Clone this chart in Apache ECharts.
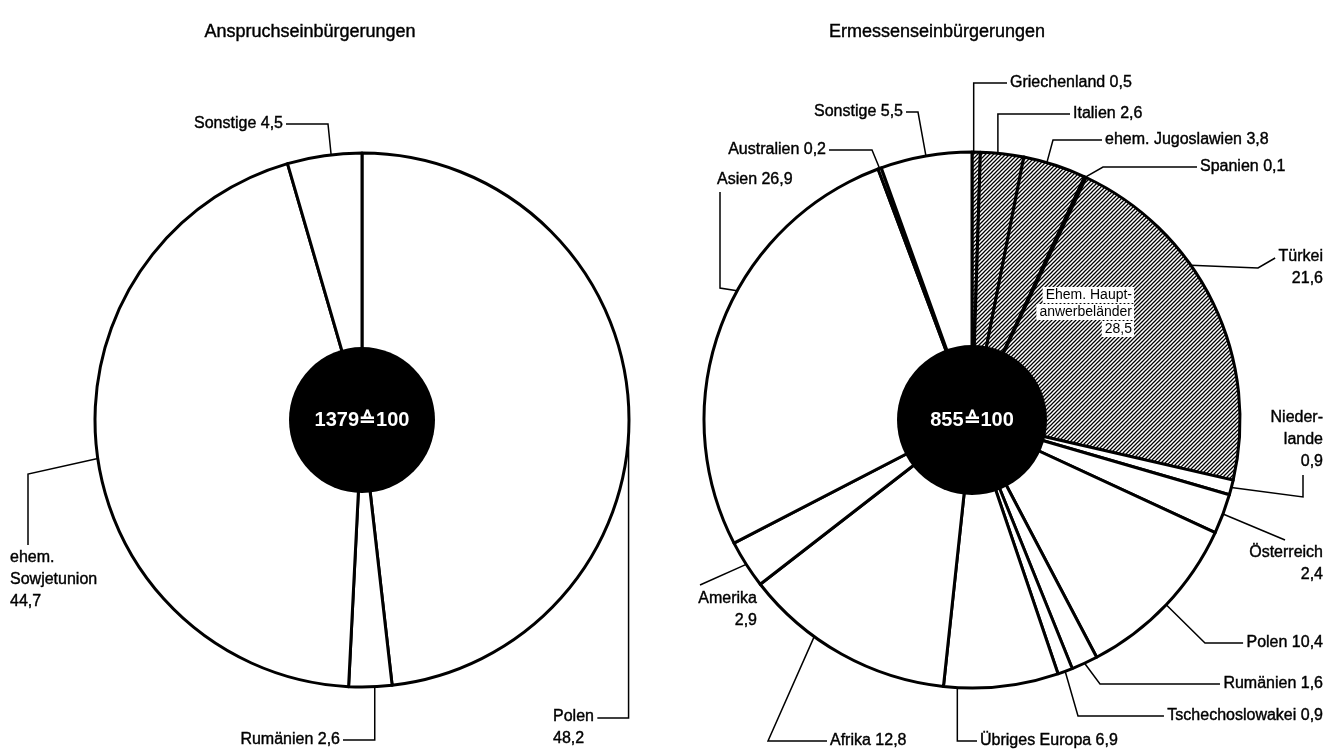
<!DOCTYPE html>
<html><head><meta charset="utf-8">
<script src="https://cdn.jsdelivr.net/npm/echarts@6/dist/echarts.min.js"></script>
<style>html,body{margin:0;padding:0;background:#fff}#c{width:1330px;height:753px}</style>
</head><body><div id="c"></div>
<script>
// ---------- data ----------
const leftTitle = 'Anspruchseinbürgerungen';
const rightTitle = 'Ermessenseinbürgerungen';

const leftCategories = ['Polen', 'Rumänien', 'ehem. Sowjetunion', 'Sonstige'];
const leftDisplay    = ['Polen', 'Rumänien', 'ehem.\nSowjetunion', 'Sonstige'];
const leftValues     = [48.2, 2.6, 44.7, 4.5];
const leftTotal      = '1379≙100';

const rightCategories = ['Griechenland', 'Italien', 'ehem. Jugoslawien', 'Spanien', 'Türkei',
  'Niederlande', 'Österreich', 'Polen', 'Rumänien', 'Tschechoslowakei', 'Übriges Europa',
  'Afrika', 'Amerika', 'Asien', 'Australien', 'Sonstige'];
const rightDisplay = ['Griechenland', 'Italien', 'ehem. Jugoslawien', 'Spanien', 'Türkei',
  'Nieder-\nlande', 'Österreich', 'Polen', 'Rumänien', 'Tschechoslowakei', 'Übriges Europa',
  'Afrika', 'Amerika', 'Asien', 'Australien', 'Sonstige'];
const rightValues = [0.5, 2.6, 3.8, 0.1, 21.6, 0.9, 2.4, 10.4, 1.6, 0.9, 6.9, 12.8, 2.9, 26.9, 0.2, 5.5];
const rightTotal  = '855≙100';
const hauptanwerbelaender = ['Griechenland', 'Italien', 'ehem. Jugoslawien', 'Spanien', 'Türkei'];
const groupLabelLines = ['Ehem. Haupt-', 'anwerbeländer', '28,5'];

// ---------- layout (positions / styles only) ----------
const FONT = '"Liberation Sans", Arial, Helvetica, sans-serif';
const leftGeom  = { cx: 362, cy: 420, r: 267, inner: 73 };
const rightGeom = { cx: 972, cy: 420, r: 268, inner: 75 };
// f: where along the slice the leader attaches; pts: leader elbows ('ex','ey' edge coords, 'L','R' label sides)
const leftLabelLayout = [
  { x: 553, y: 728, align: 'left',  sep: '\n', f: 0.5,  pts: [['ex', 718], ['R', 718]] },
  { x: 340, y: 740, align: 'right', sep: ' ',  f: 0.4,  pts: [['ex', 740], ['R', 740]] },
  { x: 10,  y: 580, align: 'left',  sep: '\n', f: 0.49, pts: [[28, 474], [28, 545]] },
  { x: 283, y: 124, align: 'right', sep: ' ',  f: 0.59, pts: [[328, 124], ['R', 124]] }
];
const rightLabelLayout = [
  { x: 1010, y: 83,  align: 'left',  sep: ' ',  f: 0.2,  pts: [['ex', 83], ['L', 83]] },
  { x: 1073, y: 114, align: 'left',  sep: ' ',  f: 0.4,  pts: [['ex', 114], ['L', 114]] },
  { x: 1105, y: 140, align: 'left',  sep: ' ',  f: 0.37, pts: [[1053, 140], ['L', 140]] },
  { x: 1200, y: 167, align: 'left',  sep: ' ',  f: 0.5,  pts: [[1103, 167], ['L', 167]] },
  { x: 1323, y: 268, align: 'right', sep: '\n', f: 0.38, pts: [[1258, 268], ['L', 258]] },
  { x: 1323, y: 440, align: 'right', sep: '\n', f: 0.5,  pts: [[1303, 497], [1303, 475]] },
  { x: 1323, y: 564, align: 'right', sep: '\n', f: 0.5,  pts: [[1285, 540]] },
  { x: 1323, y: 643, align: 'right', sep: ' ',  f: 0.5,  pts: [[1205, 643], ['L', 643]] },
  { x: 1323, y: 684, align: 'right', sep: ' ',  f: 0.5,  pts: [[1100, 684], ['L', 684]] },
  { x: 1323, y: 716, align: 'right', sep: ' ',  f: 0.5,  pts: [[1078, 716], ['L', 716]] },
  { x: 980,  y: 741, align: 'left',  sep: ' ',  f: 0.88, pts: [['ex', 741], ['L', 741]] },
  { x: 830,  y: 741, align: 'left',  sep: ' ',  f: 0.65, pts: [[768, 741], ['L', 741]] },
  { x: 757,  y: 610, align: 'right', sep: '\n', f: 0.5,  pts: [[700, 585]] },
  { x: 717,  y: 180, align: 'left',  sep: ' ',  f: 0.58, pts: [[720, 288], [720, 192]] },
  { x: 826,  y: 150, align: 'right', sep: ' ',  f: 0.5,  pts: [[872, 150], ['R', 150]] },
  { x: 903,  y: 112, align: 'right', sep: ' ',  f: 0.5,  pts: [[918, 112], ['R', 112]] }
];

function fmt(v) { return v.toFixed(1).replace('.', ','); }

function hatchCanvas() {
  const s = 4;
  const c = document.createElement('canvas');
  c.width = s; c.height = s;
  const g = c.getContext('2d');
  g.fillStyle = '#fff'; g.fillRect(0, 0, s, s);
  g.strokeStyle = '#000'; g.lineWidth = 1.25;
  g.beginPath();
  g.moveTo(-1, s + 1); g.lineTo(s + 1, -1);
  g.moveTo(-1, 1); g.lineTo(1, -1);
  g.moveTo(s - 1, s + 1); g.lineTo(s + 1, s - 1);
  g.stroke();
  return c;
}
const hatch = { image: hatchCanvas(), repeat: 'repeat' };

function edgePoint(values, i, f, geom) {
  const total = values.reduce((a, b) => a + b, 0);
  let start = 0;
  for (let k = 0; k < i; k++) start += values[k];
  const frac = (start + f * values[i]) / total;
  const a = frac * 2 * Math.PI;
  return [geom.cx + geom.r * Math.sin(a), geom.cy - geom.r * Math.cos(a)];
}

function makeLayout(values, layouts, geom) {
  return function (p) {
    const L = layouts[p.dataIndex];
    const e = edgePoint(values, p.dataIndex, L.f, geom);
    const w = p.labelRect.width;
    const left = L.align === 'left' ? L.x : L.x - w;
    const right = left + w;
    const pts = [e].concat(L.pts.map(q => [
      q[0] === 'ex' ? e[0] : q[0] === 'L' ? left - 3 : q[0] === 'R' ? right + 3 : q[0],
      q[1] === 'ey' ? e[1] : q[1]
    ]));
    return { x: L.x, y: L.y, align: L.align, verticalAlign: 'middle', labelLinePoints: pts };
  };
}

function mainPie(categories, display, values, layouts, geom, fillFn) {
  return {
    type: 'pie',
    center: [geom.cx, geom.cy],
    radius: [0, geom.r],
    startAngle: 90,
    clockwise: true,
    avoidLabelOverlap: false,
    animation: false,
    silent: true,
    minAngle: 0,
    emphasis: { disabled: true },
    itemStyle: { borderColor: '#000', borderWidth: 3 },
    label: {
      show: true,
      color: '#000',
      fontFamily: FONT,
      fontSize: 16,
      lineHeight: 22,
      textBorderColor: '#000',
      textBorderWidth: 0.4,
      formatter: p => display[p.dataIndex] + layouts[p.dataIndex].sep + fmt(values[p.dataIndex])
    },
    labelLine: { show: true, length: 5, length2: 5, lineStyle: { color: '#000', width: 1.5 } },
    labelLayout: makeLayout(values, layouts, geom),
    data: categories.map((c, i) => ({
      name: c, value: values[i],
      itemStyle: { color: fillFn(c) }
    }))
  };
}

function centerPie(text, geom) {
  return {
    type: 'pie',
    center: [geom.cx, geom.cy],
    radius: [0, geom.inner],
    silent: true,
    animation: false,
    emphasis: { disabled: true },
    itemStyle: { color: '#000', borderWidth: 0 },
    label: {
      show: true, position: 'center', formatter: text,
      color: '#fff', fontFamily: FONT, fontSize: 20, fontWeight: 'bold'
    },
    labelLine: { show: false },
    data: [{ value: 1, name: text }]
  };
}

const chart = echarts.init(document.getElementById('c'), null, { renderer: 'canvas' });
chart.setOption({
  backgroundColor: '#fff',
  animation: false,
  title: [
    { text: leftTitle, left: 305, top: 18, textAlign: 'center',
      textStyle: { fontFamily: FONT, fontSize: 18, fontWeight: 'normal', color: '#000',
        textBorderColor: '#000', textBorderWidth: 0.4 } },
    { text: rightTitle, left: 932, top: 18, textAlign: 'center',
      textStyle: { fontFamily: FONT, fontSize: 18, fontWeight: 'normal', color: '#000',
        textBorderColor: '#000', textBorderWidth: 0.4 } }
  ],
  series: [
    mainPie(leftCategories, leftDisplay, leftValues, leftLabelLayout, leftGeom, () => '#fff'),
    centerPie(leftTotal, leftGeom),
    mainPie(rightCategories, rightDisplay, rightValues, rightLabelLayout, rightGeom,
      c => hauptanwerbelaender.indexOf(c) >= 0 ? hatch : '#fff'),
    centerPie(rightTotal, rightGeom)
  ],
  graphic: groupLabelLines.map((t, i) => ({
    type: 'text',
    z: 100,
    style: {
      text: t, x: 1134, y: 295 + i * 17,
      align: 'right', verticalAlign: 'middle',
      font: '14px ' + FONT, fill: '#000',
      backgroundColor: '#fff', padding: [1, 2, 1, 3]
    }
  }))
});
</script>
</body></html>
